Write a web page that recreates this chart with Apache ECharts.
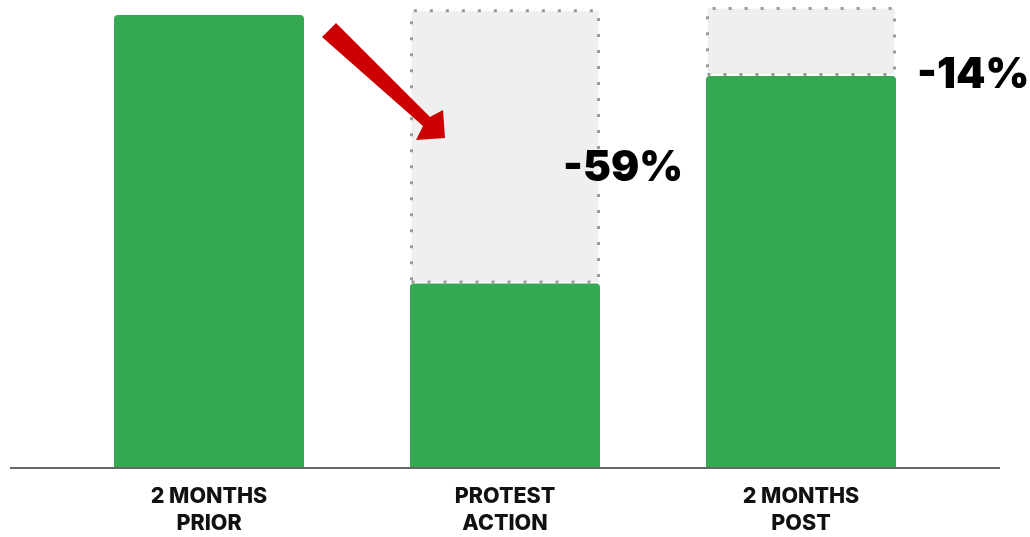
<!DOCTYPE html>
<html>
<head>
<meta charset="utf-8">
<script src="https://cdn.jsdelivr.net/npm/echarts@6/dist/echarts.min.js"></script>
<style>
  html, body { margin: 0; padding: 0; background: #fff; }
  #chart { width: 1030px; height: 537px; }
</style>
</head>
<body>
<div id="chart"></div>
<script>
const categories = ['2 MONTHS\nPRIOR', 'PROTEST\nACTION', '2 MONTHS\nPOST'];
const values = [100, 40.6, 86.5];      // relative level, prior = 100
const gaps = [null, 60.7, 15.3];       // ghost box above each bar
const dropLabels = ['', '-59%', '-14%'];

const GREEN = '#34a853';
const FONT = 'Inter, "Noto Sans", sans-serif';

const chart = echarts.init(document.getElementById('chart'));

const labelOffsets = [null, [-42, 22], [16, 34]]; // nudge text like the slide

const option = {
  animation: false,
  grid: { left: 61, right: 81, top: 6, bottom: 69 },
  xAxis: {
    type: 'category',
    data: categories,
    axisLine: { show: false },
    axisTick: { show: false },
    axisLabel: {
      margin: 16,
      color: '#111',
      fontFamily: FONT,
      fontWeight: 800,
      fontSize: 21.5,
      lineHeight: 27
    }
  },
  yAxis: {
    type: 'value',
    min: 0,
    max: 102,
    show: false,
    splitLine: { show: false }
  },
  series: [
    {
      type: 'bar',
      stack: 'a',
      barWidth: 190,
      data: values,
      itemStyle: { color: GREEN, borderRadius: [4, 4, 0, 0] },
      z: 3
    },
    {
      type: 'bar',
      stack: 'a',
      barWidth: 190,
      data: gaps.map((g, i) => g == null ? null : {
        value: g,
        label: {
          show: true,
          position: 'right',
          offset: labelOffsets[i],
          formatter: dropLabels[i],
          color: '#000',
          fontFamily: FONT,
          fontWeight: 900,
          fontSize: 42
        }
      }),
      itemStyle: {
        color: '#efefef',
        borderColor: '#9a9a9a',
        borderWidth: 3,
        borderType: [3, 13]
      },
      z: 2
    }
  ],
  graphic: [
    {
      type: 'line',
      shape: { x1: 10, y1: 468, x2: 1000, y2: 468 },
      style: { stroke: '#333', lineWidth: 1.5 },
      z: 10
    },
    {
      type: 'polygon',
      shape: {
        points: [[322, 37], [336, 23], [430, 117], [443, 110], [445, 138], [416, 140], [423, 126]]
      },
      style: { fill: '#cc0000' },
      z: 10
    }
  ]
};

chart.setOption(option);
</script>
</body>
</html>
